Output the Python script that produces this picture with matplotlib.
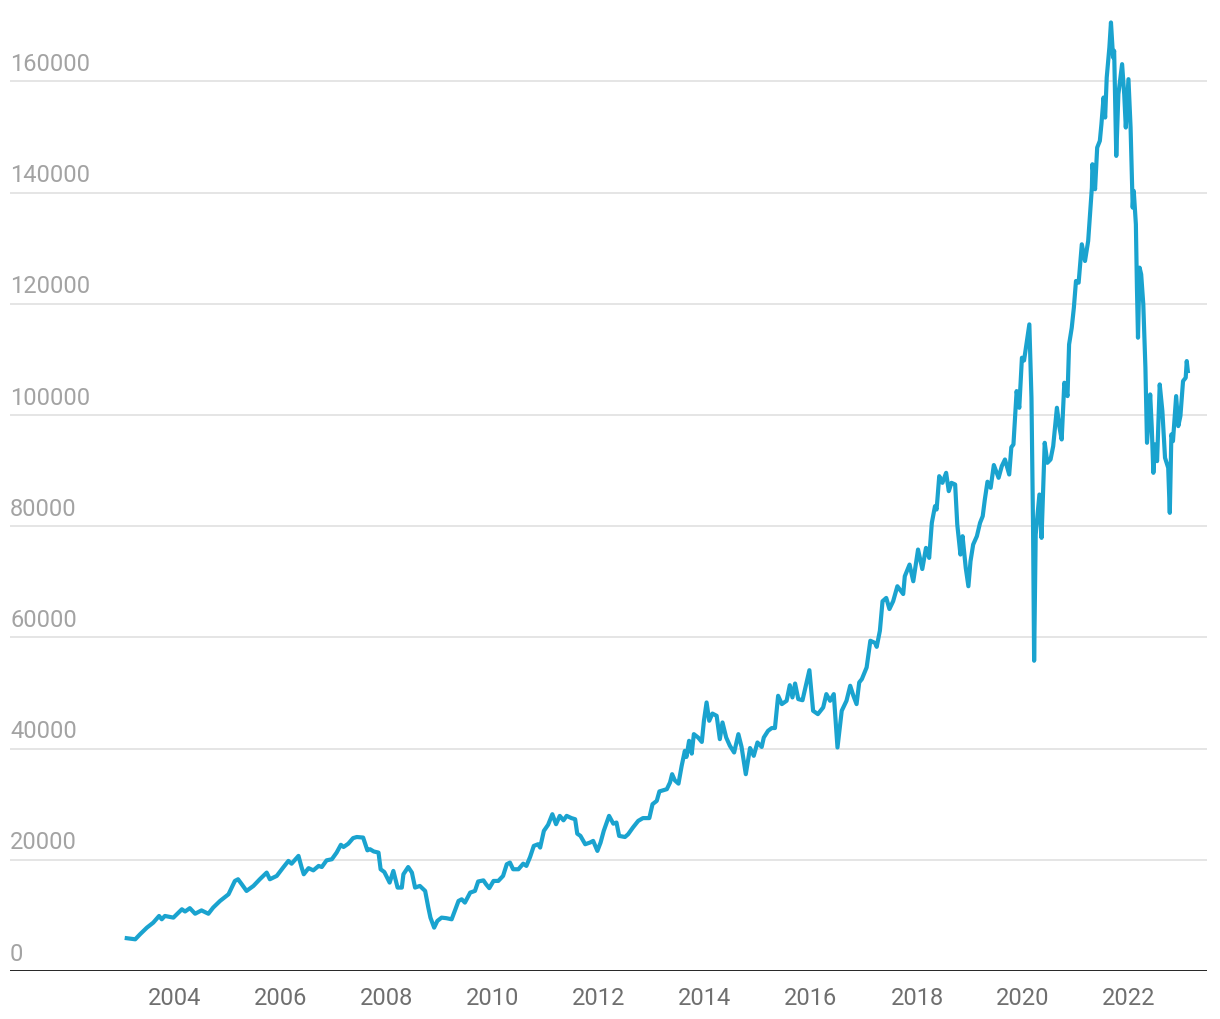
import matplotlib.pyplot as plt

# time in decimal years
years = [2003.09, 2003.25, 2003.34, 2003.47, 2003.59, 2003.70, 2003.75, 2003.81, 2003.97,
         2004.13, 2004.19, 2004.28, 2004.38, 2004.50, 2004.63, 2004.72, 2004.85, 2005.01,
         2005.13, 2005.19, 2005.26, 2005.35, 2005.48, 2005.60, 2005.73, 2005.79, 2005.92,
         2006.04, 2006.14, 2006.20, 2006.33, 2006.39, 2006.43, 2006.52, 2006.61, 2006.71,
         2006.77, 2006.86, 2006.96, 2007.05, 2007.13, 2007.18, 2007.27, 2007.36, 2007.43,
         2007.55, 2007.63, 2007.68, 2007.75, 2007.84, 2007.88, 2007.95, 2008.05, 2008.12,
         2008.20, 2008.28, 2008.31, 2008.40, 2008.47, 2008.53, 2008.62, 2008.72, 2008.78,
         2008.82, 2008.89, 2008.95, 2009.03, 2009.12, 2009.22, 2009.28, 2009.35, 2009.41,
         2009.47, 2009.57, 2009.66, 2009.72, 2009.82, 2009.87, 2009.93, 2010.01, 2010.10,
         2010.19, 2010.26, 2010.32, 2010.38, 2010.48, 2010.57, 2010.63, 2010.70, 2010.77,
         2010.85, 2010.89, 2010.96, 2011.04, 2011.12, 2011.19, 2011.26, 2011.33, 2011.39,
         2011.48, 2011.55, 2011.59, 2011.65, 2011.74, 2011.83, 2011.89, 2011.97, 2012.03,
         2012.09, 2012.19, 2012.27, 2012.33, 2012.38, 2012.49, 2012.55, 2012.64, 2012.74,
         2012.83, 2012.95, 2013.01, 2013.09, 2013.14, 2013.21, 2013.28, 2013.34, 2013.38,
         2013.43, 2013.50, 2013.56, 2013.62, 2013.65, 2013.70, 2013.75, 2013.79, 2013.87,
         2013.94, 2013.98, 2014.03, 2014.08, 2014.14, 2014.22, 2014.28, 2014.33, 2014.40,
         2014.47, 2014.55, 2014.63, 2014.69, 2014.77, 2014.85, 2014.92, 2014.99, 2015.07,
         2015.11, 2015.19, 2015.26, 2015.32, 2015.38, 2015.45, 2015.54, 2015.60, 2015.65,
         2015.70, 2015.76, 2015.84, 2015.91, 2015.97, 2016.04, 2016.13, 2016.23, 2016.29,
         2016.36, 2016.43, 2016.50, 2016.58, 2016.67, 2016.74, 2016.80, 2016.86, 2016.91,
         2016.96, 2017.05, 2017.12, 2017.21, 2017.24, 2017.30, 2017.35, 2017.42, 2017.48,
         2017.55, 2017.63, 2017.74, 2017.77, 2017.86, 2017.93, 2018.02, 2018.10, 2018.17,
         2018.23, 2018.28, 2018.34, 2018.37, 2018.42, 2018.48, 2018.55, 2018.60, 2018.65,
         2018.72, 2018.76, 2018.82, 2018.86, 2018.92, 2018.97, 2019.01, 2019.06, 2019.13,
         2019.19, 2019.24, 2019.28, 2019.33, 2019.39, 2019.45, 2019.54, 2019.60, 2019.66,
         2019.74, 2019.78, 2019.82, 2019.88, 2019.93, 2019.98, 2020.02, 2020.06, 2020.12,
         2020.16, 2020.19, 2020.21, 2020.24, 2020.31, 2020.35, 2020.41, 2020.46, 2020.52,
         2020.57, 2020.64, 2020.69, 2020.73, 2020.78, 2020.84, 2020.87, 2020.92, 2020.96,
         2021.00, 2021.05, 2021.11, 2021.17, 2021.23, 2021.30, 2021.31, 2021.36, 2021.40,
         2021.45, 2021.48, 2021.52, 2021.55, 2021.58, 2021.63, 2021.66, 2021.70, 2021.72,
         2021.76, 2021.80, 2021.87, 2021.91, 2021.94, 2021.99, 2022.03, 2022.07, 2022.09,
         2022.13, 2022.15, 2022.17, 2022.20, 2022.23, 2022.27, 2022.31, 2022.34, 2022.40,
         2022.43, 2022.46, 2022.49, 2022.53, 2022.58, 2022.63, 2022.68, 2022.74, 2022.77,
         2022.80, 2022.83, 2022.89, 2022.93, 2022.97, 2023.02, 2023.07, 2023.09, 2023.11]

values = [5900, 5700, 6600, 7800, 8700, 9900, 9300, 9900, 9600,
          11100, 10700, 11300, 10300, 10900, 10300, 11400, 12600, 13800,
          16200, 16500, 15600, 14400, 15300, 16500, 17700, 16500, 17100,
          18600, 19800, 19300, 20700, 18600, 17400, 18500, 18100, 18900,
          18700, 19900, 20100, 21300, 22700, 22300, 22900, 23900, 24100,
          24000, 21700, 21900, 21500, 21300, 18300, 17800, 15900, 18000,
          15000, 15000, 17400, 18700, 17700, 15000, 15300, 14400, 11400,
          9600, 7800, 9000, 9600, 9500, 9300, 10800, 12600, 12900,
          12300, 14100, 14400, 16100, 16300, 15600, 14900, 16200, 16200,
          17100, 19200, 19500, 18300, 18300, 19300, 18900, 20500, 22500,
          22800, 22200, 25200, 26300, 28200, 26400, 27900, 27100, 27900,
          27500, 27300, 24700, 24300, 22800, 23100, 23400, 21600, 23100,
          25200, 27900, 26500, 26700, 24300, 24100, 24600, 25800, 27000,
          27500, 27500, 30000, 30600, 32300, 32500, 32700, 33900, 35400,
          34300, 33700, 36900, 39600, 38500, 41400, 39100, 42600, 42000,
          41200, 45000, 48300, 45000, 46300, 45900, 41700, 44700, 42000,
          40500, 39300, 42600, 40300, 35400, 40100, 38700, 41100, 40300,
          42000, 43200, 43700, 43700, 49500, 48000, 48600, 51400, 49200,
          51700, 48900, 48700, 51600, 54100, 46800, 46200, 47400, 49800,
          48600, 49800, 40200, 46800, 48600, 51300, 49500, 48000, 51900,
          52500, 54600, 59400, 59000, 58300, 61200, 66500, 67100, 65100,
          66500, 69200, 67800, 71000, 73100, 70100, 75800, 72300, 76100,
          74300, 80600, 83600, 83000, 89000, 87800, 89600, 86300, 87800,
          87500, 80300, 74900, 78200, 72500, 69200, 73700, 76700, 78200,
          80600, 81800, 84800, 88000, 86900, 91000, 88700, 90800, 92000,
          89300, 94200, 94700, 104300, 101300, 110300, 109800, 112400, 116300,
          103100, 79700, 55800, 78500, 85700, 77900, 95000, 91400, 92000,
          94400, 101300, 97700, 95600, 105800, 103400, 112700, 115700, 119300,
          124100, 123800, 130700, 127700, 131300, 140900, 145100, 140600, 148100,
          149300, 152300, 157100, 153500, 160700, 166100, 170600, 164300, 165500,
          146600, 157700, 163100, 157700, 151700, 160400, 151700, 137300, 140300,
          134300, 122900, 113900, 126500, 125300, 119900, 108500, 95000, 103700,
          97700, 89600, 94700, 91700, 105500, 100700, 92300, 90500, 82400,
          96500, 95300, 103400, 98000, 99800, 106100, 106700, 109700, 107900]

x_ticks = [2004, 2006, 2008, 2010, 2012, 2014, 2016, 2018, 2020, 2022]
x_labels = ["2004", "2006", "2008", "2010", "2012", "2014", "2016", "2018", "2020", "2022"]
y_ticks = [0, 20000, 40000, 60000, 80000, 100000, 120000, 140000, 160000]

plt.rcParams['font.family'] = ['Roboto', 'DejaVu Sans']

fig = plt.figure(figsize=(12.2, 10.2), dpi=100)
ax = fig.add_axes([10/1220, 48/1020, 1197/1220, 961/1020])

ax.plot(years, values, color="#1aa3cf", linewidth=3.0, solid_joinstyle="round", zorder=3)

ax.set_xlim(2000.887, 2023.472)
ax.set_ylim(0, 172840)

# gridlines, 0 line drawn as the black baseline
for v in y_ticks[1:]:
    ax.axhline(v, color="#e3e3e3", linewidth=1.3, zorder=1)
ax.axhline(0, color="#111111", linewidth=2, zorder=4)

# y labels sit above their gridline, left aligned
for v in y_ticks:
    ax.annotate(str(v), xy=(0, v), xycoords=("axes fraction", "data"),
                xytext=(0, 8.2), textcoords="offset points",
                ha="left", va="baseline", fontsize=17, color="#a3a3a3")

ax.set_xticks(x_ticks)
ax.set_xticklabels(x_labels, fontsize=17, color="#6f6f6f")
ax.tick_params(axis="x", length=0, pad=10.8)
ax.set_yticks([])

for s in ax.spines.values():
    s.set_visible(False)

fig.savefig("out.png", dpi=100)
